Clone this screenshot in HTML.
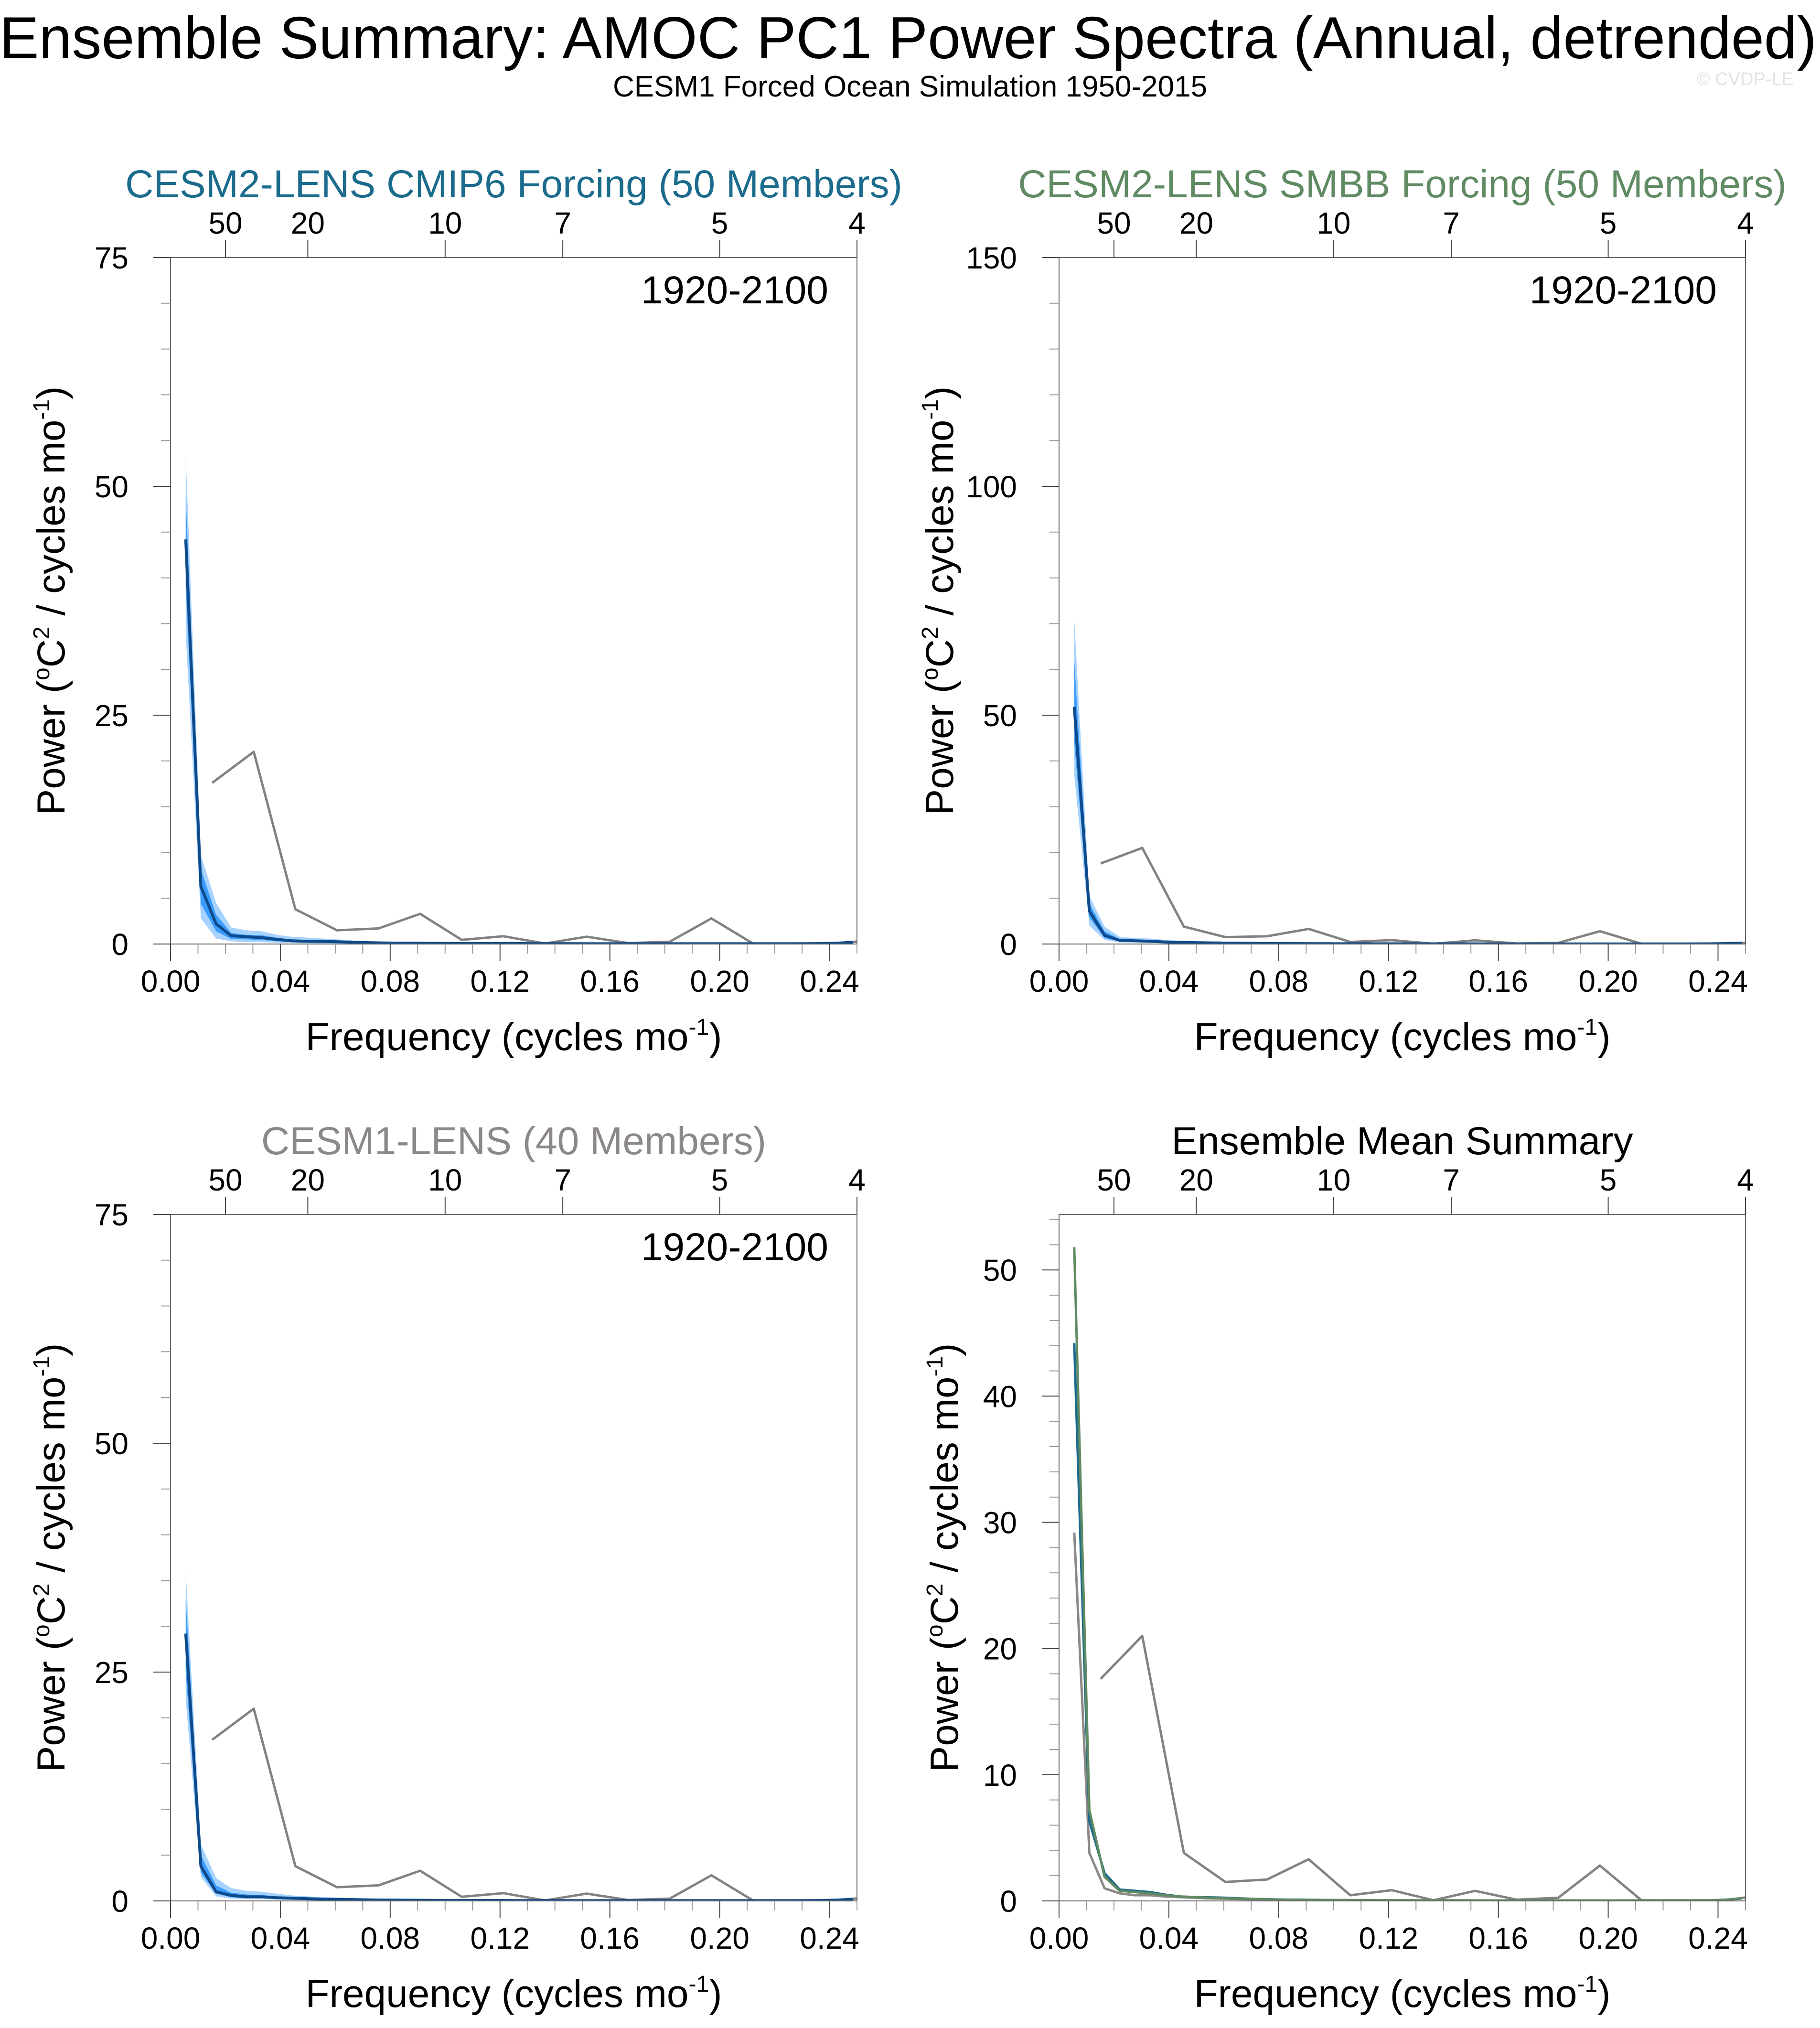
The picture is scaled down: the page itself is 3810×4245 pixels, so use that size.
<!DOCTYPE html>
<html><head><meta charset="utf-8"><style>
html,body{margin:0;padding:0;background:#fff;}
svg{display:block;font-family:"Liberation Sans",sans-serif;}
</style></head><body>
<svg id="fig" width="3810" height="4245" viewBox="0 0 3810 4245" xmlns="http://www.w3.org/2000/svg">
<text x="1901" y="122" text-anchor="middle" font-size="124" fill="#000">Ensemble Summary: AMOC PC1 Power Spectra (Annual, detrended)</text>
<text x="1905" y="202" text-anchor="middle" font-size="62" fill="#000">CESM1 Forced Ocean Simulation 1950-2015</text>
<text x="3755" y="178" text-anchor="end" font-size="38" fill="#e2e2e2">© CVDP-LE</text>
</svg>
<script>
// ---- data ----
const modelN = 181;           // model frequencies k/181
const obsN = 66;              // observed frequencies k/66
const obsPower = [17.6,21.0,3.8,1.5,1.7,3.3,0.45,0.85,0.05,0.8,0.1,0.25,2.8,0.05,0.05,0.05,0.5];
const cmip6Mean = [44.2,6.3,2.2,0.9,0.8,0.7,0.5,0.35,0.3,0.28,0.25,0.2,0.15,0.12,0.1,0.1,0.08,0.07,0.06,0.06,0.05,0.05,0.05,0.04,0.04,0.04,0.04,0.03,0.03,0.03,0.03,0.03,0.03,0.03,0.03,0.03,0.03,0.03,0.03,0.03,0.03,0.04,0.05,0.1,0.2];
const cmip6OuterHi = [53.5,9.7,4.5,1.8,1.5,1.4,1.0,0.8,0.7,0.6,0.5,0.4];
const cmip6OuterLo = [34,2.8,0.6,0.3,0.2,0.2,0.15,0.1,0.08,0.06,0.05,0.04];
const cmip6InnerHi = [49,8.2,3.2,1.2,1.0,0.95,0.7,0.5,0.45,0.4,0.35,0.3];
const cmip6InnerLo = [39,4.4,1.4,0.55,0.5,0.45,0.3,0.2,0.17,0.15,0.13,0.1];
const smbbMean = [51.8,7.2,1.9,0.8,0.7,0.6,0.45,0.35,0.3,0.25,0.2,0.18,0.15,0.12,0.1,0.09,0.08,0.07,0.06,0.06,0.05,0.05,0.05,0.04,0.04,0.04,0.04,0.03,0.03,0.03,0.03,0.03,0.03,0.03,0.03,0.03,0.03,0.03,0.03,0.03,0.03,0.04,0.05,0.1,0.2];
const smbbOuterHi = [71,10.5,3.8,1.6,1.3,1.2,0.9,0.7,0.6,0.5,0.4,0.35];
const smbbOuterLo = [37,4.0,0.9,0.35,0.3,0.25,0.15,0.1,0.08,0.06,0.05,0.04];
const smbbInnerHi = [62,8.8,2.8,1.1,1.0,0.9,0.65,0.5,0.45,0.4,0.3,0.25];
const smbbInnerLo = [44,5.8,1.3,0.55,0.45,0.4,0.3,0.2,0.17,0.14,0.12,0.1];
const cesm1Mean = [29.2,3.8,1.0,0.6,0.45,0.45,0.35,0.3,0.25,0.2,0.18,0.15,0.12,0.1,0.09,0.08,0.07,0.06,0.06,0.05,0.05,0.05,0.04,0.04,0.04,0.04,0.03,0.03,0.03,0.03,0.03,0.03,0.03,0.03,0.03,0.03,0.03,0.03,0.03,0.03,0.03,0.04,0.05,0.1,0.2];
const cesm1OuterHi = [36,6.2,2.5,1.4,1.1,1.0,0.8,0.6,0.5,0.4,0.35,0.3];
const cesm1OuterLo = [22,2.6,0.5,0.25,0.2,0.2,0.15,0.1,0.08,0.06,0.05,0.04];
const cesm1InnerHi = [33,5.0,1.7,0.9,0.7,0.65,0.5,0.4,0.35,0.3,0.25,0.2];
const cesm1InnerLo = [25,3.1,0.8,0.4,0.3,0.3,0.22,0.18,0.15,0.12,0.1,0.08];
const xTicks = [0,0.04,0.08,0.12,0.16,0.20,0.24];
const xTickLabels = ["0.00","0.04","0.08","0.12","0.16","0.20","0.24"];
const periodTicks = [50,20,10,7,5,4];

const NS="http://www.w3.org/2000/svg";
const svg=document.getElementById('fig');
function mk(tag,attrs,parent){const e=document.createElementNS(NS,tag);for(const k in attrs)e.setAttribute(k,attrs[k]);(parent||svg).appendChild(e);return e;}

const panels=[
 {id:'cmip6',L:357,T:539,title:'CESM2-LENS CMIP6 Forcing (50 Members)',tc:'#1b6b8c',ymax:75,ymaj:25,ymin:5,mean:cmip6Mean,oh:cmip6OuterHi,ol:cmip6OuterLo,ih:cmip6InnerHi,il:cmip6InnerLo},
 {id:'smbb',L:2217,T:539,title:'CESM2-LENS SMBB Forcing (50 Members)',tc:'#5f8a62',ymax:150,ymaj:50,ymin:10,mean:smbbMean,oh:smbbOuterHi,ol:smbbOuterLo,ih:smbbInnerHi,il:smbbInnerLo},
 {id:'cesm1',L:357,T:2542,title:'CESM1-LENS (40 Members)',tc:'#8c8888',ymax:75,ymaj:25,ymin:5,mean:cesm1Mean,oh:cesm1OuterHi,ol:cesm1OuterLo,ih:cesm1InnerHi,il:cesm1InnerLo},
 {id:'summary',L:2217,T:2542,title:'Ensemble Mean Summary',tc:'#000',ymax:54.4,ymaj:10,ymin:2,summary:true}
];
const W=1437,H=1437,XMAX=0.25;

panels.forEach((p,pi)=>{
 const g=mk('g',{});
 
 
 const X=f=>p.L+f/XMAX*W;
 const Y=v=>p.T+H-v/p.ymax*H;
 const clipId='clip'+pi;
 const cp=mk('clipPath',{id:clipId},g);mk('rect',{x:p.L,y:p.T,width:W,height:H},cp);
 const plot=mk('g',{'clip-path':'url(#'+clipId+')'},g);
 const mf=k=>k/modelN;
 function band(hi,lo,color,name){
  let d='';
  hi.forEach((v,i)=>{d+=(i?'L':'M')+X(mf(i+1)).toFixed(1)+','+Y(v).toFixed(1);});
  for(let i=lo.length-1;i>=0;i--)d+='L'+X(mf(i+1)).toFixed(1)+','+Y(lo[i]).toFixed(1);
  const e=mk('path',{d:d+'Z',fill:color,stroke:'none'},plot);
  
  
 }
 function line(arr,fx,color,w,name){
  let d='';arr.forEach((v,i)=>{d+=(i?'L':'M')+X(fx(i+1)).toFixed(1)+','+Y(v).toFixed(1);});
  const e=mk('path',{d:d,fill:'none',stroke:color,'stroke-width':w,'stroke-linejoin':'round'},plot);
  
  
 }
 if(!p.summary){
  band(p.oh,p.ol,'#a6d2ff','outer-spread-band');
  band(p.ih,p.il,'#3a9cff','inner-spread-band');
  line(obsPower,k=>k/obsN,'#828282',5,'observed-spectrum-line');
  line(p.mean,mf,'#0e4a8a',6,'ensemble-mean-line');
 } else {
  line(obsPower,k=>k/obsN,'#828282',5,'observed-spectrum-line');
  line(cesm1Mean,mf,'#8c8888',5,'cesm1-mean-line');
  line(cmip6Mean,mf,'#1b6b8c',5,'cmip6-mean-line');
  line(smbbMean,mf,'#5f8a62',5,'smbb-mean-line');
 }
 const fr=mk('rect',{x:p.L,y:p.T,width:W,height:H,fill:'none',stroke:'#666','stroke-width':2},g);
 
 
 for(let v=0;v<=p.ymax+1e-6;v+=p.ymin){
  const major=Math.abs(v/p.ymaj-Math.round(v/p.ymaj))<1e-6;
  mk('line',{x1:p.L-(major?36:20),x2:p.L,y1:Y(v),y2:Y(v),stroke:major?'#444':'#999','stroke-width':2},g);
  if(major){const t=mk('text',{x:p.L-88,y:Y(v)+23,'text-anchor':'end','font-size':64,fill:'#000'},g);t.textContent=String(Math.round(v));
   }
 }
 for(let k=0;k<=25;k++){
  const f=k/100,major=k%4===0;
  mk('line',{x1:X(f),x2:X(f),y1:p.T+H,y2:p.T+H+(major?36:20),stroke:major?'#444':'#999','stroke-width':2},g);
 }
 xTicks.forEach((f,i)=>{const t=mk('text',{x:X(f),y:p.T+H+100,'text-anchor':'middle','font-size':64,fill:'#000'},g);t.textContent=xTickLabels[i];
  });
 periodTicks.forEach(per=>{const f=1/per;
  mk('line',{x1:X(f),x2:X(f),y1:p.T-36,y2:p.T,stroke:'#444','stroke-width':2},g);
  const t=mk('text',{x:X(f),y:p.T-50,'text-anchor':'middle','font-size':64,fill:'#000'},g);t.textContent=String(per);
  });
 const tt=mk('text',{x:p.L+W/2,y:p.T-126,'text-anchor':'middle','font-size':82,fill:p.tc},g);tt.textContent=p.title;
 
 if(!p.summary){const yr=mk('text',{x:p.L+W-60,y:p.T+96,'text-anchor':'end','font-size':82,fill:'#000'},g);yr.textContent='1920-2100';
  }
 const xt=mk('text',{x:p.L+W/2,y:p.T+H+222,'text-anchor':'middle','font-size':82,fill:'#000'},g);
 xt.innerHTML='Frequency (cycles mo<tspan dy="-32" font-size="48">-1</tspan><tspan dy="32">)</tspan>';
 
 const yx=p.summary?p.L-212:p.L-222;
 const yt=mk('text',{x:0,y:0,'text-anchor':'middle','font-size':82,fill:'#000',transform:'translate('+(yx)+','+(p.T+H/2)+') rotate(-90)'},g);
 yt.innerHTML='Power (<tspan dy="-32" font-size="48">o</tspan><tspan dy="32">C</tspan><tspan dy="-32" font-size="48">2</tspan><tspan dy="32"> / cycles mo</tspan><tspan dy="-32" font-size="48">-1</tspan><tspan dy="32">)</tspan>';
 
});
</script>
</body></html>
